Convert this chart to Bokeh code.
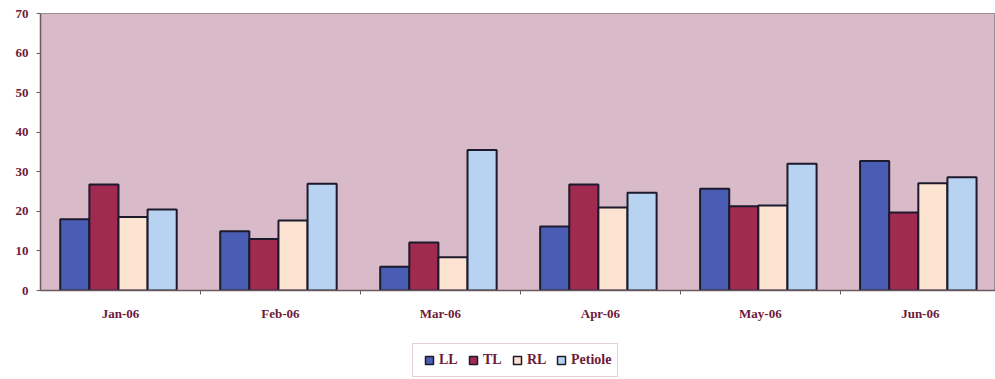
from bokeh.plotting import figure
from bokeh.layouts import column
from bokeh.models import Range1d, FixedTicker, Legend, LegendItem, ColumnDataSource
from bokeh.embed import file_html
from bokeh.resources import INLINE

months = ["Jan-06", "Feb-06", "Mar-06", "Apr-06", "May-06", "Jun-06"]
series = ["LL", "TL", "RL", "Petiole"]
ll = [18, 15, 6, 16.2, 25.7, 32.7]
tl = [26.8, 13, 12.1, 26.8, 21.3, 19.7]
rl = [18.6, 17.7, 8.4, 21, 21.5, 27.1]
petiole = [20.5, 27, 35.5, 24.7, 32, 28.6]
y_ticks = [0, 10, 20, 30, 40, 50, 60, 70]

colors = ["#4a5db4", "#a02a50", "#fde3d2", "#b7d3f1"]
values = [ll, tl, rl, petiole]

text_color = "#6e1a38"
serif = "Liberation Serif"
outline = "#1c1a2c"

p = figure(width=995, height=335, output_backend="svg", toolbar_location=None,
           x_range=Range1d(0, 5.97), y_range=Range1d(0, 70),
           min_border_left=40, min_border_right=0, min_border_top=13, min_border_bottom=45)
p.background_fill_color = "#d8bac8"
p.border_fill_color = "white"
p.outline_line_color = "#9a9096"
p.outline_line_width = 1
p.grid.visible = False

centers = [i + 0.5 for i in range(len(months))]
bar_w = 0.182
offsets = [-1.5, -0.5, 0.5, 1.5]

sources = []
for name, vals, col, off in zip(series, values, colors, offsets):
    src = ColumnDataSource(dict(x=[c - 0.0125 + off * bar_w for c in centers], top=vals))
    sources.append(src)
    p.vbar(x="x", top="top", bottom=0, width=bar_w, source=src,
           fill_color=col, line_color=outline, line_width=2)

# x axis: labels at category centres, tick marks between categories
xa = p.xaxis[0]
xa.ticker = FixedTicker(ticks=centers, minor_ticks=[1, 2, 3, 4, 5])
xa.major_label_overrides = {c: m for c, m in zip(centers, months)}
xa.major_tick_line_color = None
xa.minor_tick_out = 4
xa.minor_tick_in = 0
xa.minor_tick_line_color = "#6a5a60"
xa.axis_line_color = "#6a5a60"
xa.axis_line_width = 1.5
xa.major_label_standoff = 9
xa.major_label_text_font = serif
xa.major_label_text_font_style = "bold"
xa.major_label_text_font_size = "13px"
xa.major_label_text_color = text_color

ya = p.yaxis[0]
ya.ticker = FixedTicker(ticks=y_ticks)
ya.minor_tick_line_color = None
ya.major_tick_out = 4
ya.major_tick_in = 0
ya.major_tick_line_color = "#6a5a60"
ya.axis_line_color = "#6a5a60"
ya.axis_line_width = 1.5
ya.major_label_standoff = 8
ya.major_label_text_font = serif
ya.major_label_text_font_style = "bold"
ya.major_label_text_font_size = "13px"
ya.major_label_text_color = text_color

# legend strip under the chart; its square markers sit outside the strip's view,
# so only the legend swatches show
lg = figure(width=995, height=44, output_backend="svg", toolbar_location=None,
            x_range=Range1d(100, 101), y_range=Range1d(100, 101),
            min_border_left=0, min_border_right=0, min_border_top=0, min_border_bottom=0)
lg.axis.visible = False
lg.grid.visible = False
lg.outline_line_color = None
lg.background_fill_color = "white"
lg.border_fill_color = "white"

items = []
for name, col, src in zip(series, colors, sources):
    r = lg.scatter(x="x", y="top", source=src, marker="square", size=9,
                   fill_color=col, line_color=outline, line_width=1.5)
    items.append(LegendItem(label=name, renderers=[r]))

legend = Legend(items=items, orientation="horizontal", location=(372, 2),
                label_text_font=serif, label_text_font_style="bold",
                label_text_font_size="14px", label_text_color=text_color,
                glyph_width=20, glyph_height=20, spacing=4, label_standoff=0,
                padding=6, margin=0,
                border_line_color="#c9a2b4", border_line_width=1,
                background_fill_color="white", background_fill_alpha=1)
lg.add_layout(legend, "center")

layout = column(p, lg, spacing=0)
open("out.html", "w").write(file_html(layout, INLINE))
